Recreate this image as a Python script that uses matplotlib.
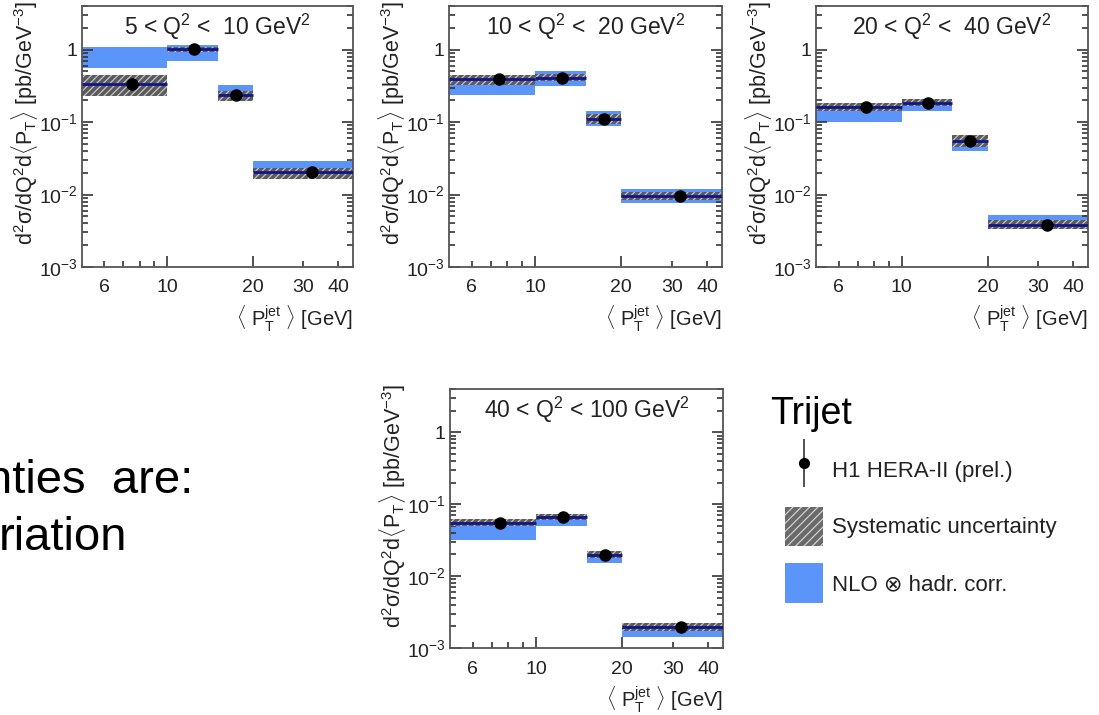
import matplotlib
matplotlib.use("Agg")
import matplotlib.pyplot as plt
from matplotlib.ticker import FixedLocator, FuncFormatter
from matplotlib.patches import Patch
from matplotlib.lines import Line2D
import numpy as np

plt.rcParams['font.family'] = ['Liberation Sans', 'DejaVu Sans']
plt.rcParams['mathtext.fontset'] = 'custom'
plt.rcParams['mathtext.rm'] = 'Liberation Sans'
plt.rcParams['mathtext.it'] = 'Liberation Sans'
plt.rcParams['mathtext.bf'] = 'Liberation Sans:bold'
plt.rcParams['hatch.linewidth'] = 0.9

# bins in <PT jet> [GeV]
bin_lo = [5, 10, 15, 20]
bin_hi = [10, 15, 20, 45]
pt_mean = [7.5, 12.4, 17.4, 32.2]

titles = ["5 < Q$^2$ <  10 GeV$^2$", "10 < Q$^2$ <  20 GeV$^2$",
          "20 < Q$^2$ <  40 GeV$^2$", "40 < Q$^2$ < 100 GeV$^2$"]

# cross sections per Q2 bin [pb/GeV^3]
xs_q1 = [0.34, 1.02, 0.233, 0.0205]
xs_q2 = [0.39, 0.41, 0.112, 0.0094]
xs_q3 = [0.162, 0.185, 0.055, 0.0038]
xs_q4 = [0.0556, 0.067, 0.0197, 0.00193]

stat_q1 = [0.07, 0.03, 0.008, 0.001]
stat_q2 = [0.03, 0.03, 0.006, 0.0005]
stat_q3 = [0.012, 0.012, 0.004, 0.0002]
stat_q4 = [0.004, 0.004, 0.0012, 0.0001]

sys_lo_q1 = [0.226, 0.93, 0.195, 0.0164]
sys_hi_q1 = [0.45, 1.10, 0.27, 0.0236]
sys_lo_q2 = [0.32, 0.37, 0.095, 0.0083]
sys_hi_q2 = [0.44, 0.46, 0.13, 0.0107]
sys_lo_q3 = [0.143, 0.166, 0.046, 0.0033]
sys_hi_q3 = [0.185, 0.206, 0.066, 0.0045]
sys_lo_q4 = [0.049, 0.060, 0.018, 0.0017]
sys_hi_q4 = [0.062, 0.074, 0.022, 0.0022]

nlo_lo_q1 = [0.56, 0.69, 0.217, 0.019]
nlo_hi_q1 = [1.10, 1.17, 0.33, 0.029]
nlo_lo_q2 = [0.24, 0.31, 0.089, 0.0077]
nlo_hi_q2 = [0.44, 0.51, 0.14, 0.012]
nlo_lo_q3 = [0.101, 0.14, 0.040, 0.0037]
nlo_hi_q3 = [0.166, 0.21, 0.056, 0.0053]
nlo_lo_q4 = [0.032, 0.050, 0.0152, 0.0014]
nlo_hi_q4 = [0.055, 0.067, 0.021, 0.0020]

panels = [
    (xs_q1, stat_q1, sys_lo_q1, sys_hi_q1, nlo_lo_q1, nlo_hi_q1),
    (xs_q2, stat_q2, sys_lo_q2, sys_hi_q2, nlo_lo_q2, nlo_hi_q2),
    (xs_q3, stat_q3, sys_lo_q3, sys_hi_q3, nlo_lo_q3, nlo_hi_q3),
    (xs_q4, stat_q4, sys_lo_q4, sys_hi_q4, nlo_lo_q4, nlo_hi_q4),
]

W, H = 1099, 715
# axes boxes in pixels: left, top, right, bottom
boxes = [(82, 6, 353, 267), (449, 6, 722, 267), (816, 6, 1088, 267),
         (450, 389, 723, 648)]

blue = '#5b95f9'
navy = '#14148c'
sysgray = '#5a5a5a'
txt = '#222222'

fig = plt.figure(figsize=(W / 100, H / 100), dpi=100)


def yfmt(v, pos):
    if abs(v - 1) < 1e-9:
        return '1'
    return r'10$^{%d}$' % round(np.log10(v))


def xfmt(v, pos):
    if round(v) in (6, 30, 40):
        return '%d' % round(v)
    return ''


for (l, t, r, b), title, (xs, st, slo, shi, nlo, nhi) in zip(boxes, titles, panels):
    ax = fig.add_axes([l / W, 1 - b / H, (r - l) / W, (b - t) / H])
    ax.set_xscale('log')
    ax.set_yscale('log')
    ax.set_xlim(5, 45)
    ax.set_ylim(1e-3, 4)

    widths = np.array(bin_hi) - np.array(bin_lo)
    ax.bar(bin_lo, np.array(nhi) - np.array(nlo), width=widths, bottom=nlo,
           align='edge', color=blue, lw=0, zorder=1)
    ax.bar(bin_lo, np.array(shi) - np.array(slo), width=widths, bottom=slo,
           align='edge', facecolor=sysgray, edgecolor='#c4c4c4', hatch='/////',
           lw=0, zorder=2)
    ax.hlines(xs, bin_lo, bin_hi, color=navy, lw=2, zorder=3)
    ax.errorbar(pt_mean, xs, yerr=st, fmt='o', color='black', ms=8,
                ecolor=navy, elinewidth=1.5, capsize=0, zorder=4)

    ax.text(0.5, 0.92, title, transform=ax.transAxes, ha='center', va='center',
            fontsize=16.5, color=txt)

    ax.xaxis.set_major_locator(FixedLocator([10, 20]))
    ax.xaxis.set_minor_locator(FixedLocator([6, 7, 8, 9, 30, 40]))
    ax.xaxis.set_major_formatter(FuncFormatter(lambda v, p: '%d' % round(v)))
    ax.xaxis.set_minor_formatter(FuncFormatter(xfmt))
    ax.yaxis.set_major_locator(FixedLocator([1e-3, 1e-2, 1e-1, 1]))
    ax.yaxis.set_minor_locator(FixedLocator(
        [m * 10.0 ** e for e in range(-3, 1) for m in range(2, 10)]))
    ax.yaxis.set_major_formatter(FuncFormatter(yfmt))
    ax.yaxis.set_minor_formatter(FuncFormatter(lambda v, p: ''))

    ax.tick_params(which='both', direction='in', right=True, top=False,
                   colors='#333333', labelcolor=txt, labelsize=14, width=1.2)
    ax.tick_params(which='major', length=8)
    ax.tick_params(which='minor', length=4)
    ax.tick_params(axis='x', which='both', pad=9)
    ax.tick_params(axis='y', which='both', pad=3)
    for s in ax.spines.values():
        s.set_color('#555555')
        s.set_linewidth(1.3)

    ax.set_xlabel(r'$\langle$ P$^{\rm jet}_{\rm T}$ $\rangle$ [GeV]', loc='right',
                  fontsize=14.5, color=txt, labelpad=5)
    ax.set_ylabel(r'd$^2\sigma$/dQ$^2$d$\langle$P$_{\rm T}\rangle$ [pb/GeV$^{-3}$]',
                  loc='top', fontsize=15.5, color=txt)
    ax.yaxis.set_label_coords(-0.155, 1.02)

# legend
fig.text(770 / W, 1 - 424 / H, 'Trijet', fontsize=27, color='black',
         ha='left', va='baseline')
h_data = (Line2D([], [], marker='|', ms=34, mew=1.2, color='#333333', ls='none'),
          Line2D([], [], marker='o', ms=7, color='black', ls='none'))
h_sys = Patch(facecolor='#6a6a6a', edgecolor='#d0d0d0', hatch='////', lw=0)
h_nlo = Patch(facecolor=blue, lw=0)
fig.legend([h_data, h_sys, h_nlo],
           ['H1 HERA-II (prel.)', 'Systematic uncertainty', 'NLO \u2297 hadr. corr.'],
           loc='upper left', bbox_to_anchor=(785 / W, 1 - 450 / H),
           frameon=False, fontsize=16, handlelength=1.7, handleheight=2.35,
           labelspacing=0.78, handletextpad=0.4, borderpad=0, borderaxespad=0,
           labelcolor=txt)

# slide text cut at the left edge
fig.text(193 / W, 1 - 493 / H, 'nties  are:', fontsize=34, ha='right',
         va='baseline', color='black')
fig.text(127 / W, 1 - 550 / H, 'riation', fontsize=34, ha='right',
         va='baseline', color='black')

fig.savefig('out.png', dpi=100)
